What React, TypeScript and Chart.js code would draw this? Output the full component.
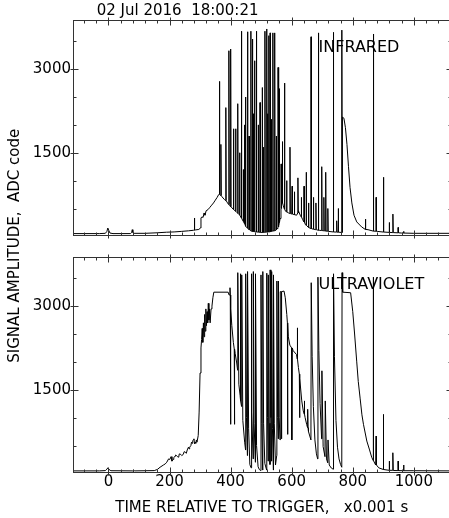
import React, { useEffect, useRef } from 'react';
import { Chart, registerables } from 'chart.js';

Chart.register(...registerables);

const FONT = 'DejaVu Sans';
const TITLE_TEXT = '02 Jul 2016  18:00:21';
const X_TITLE = 'TIME RELATIVE TO TRIGGER,   x0.001 s';
const Y_TITLE = 'SIGNAL AMPLITUDE,  ADC code';
const PANEL_LABELS = ['INFRARED', 'ULTRAVIOLET'];
const LABEL_T = 688;
const LABEL_V = 3390;

const X_MIN = -116;
const X_MAX = 1120;
const Y_MIN = 25;
const Y_MAX = 3890;
const X_TICKS = [0, 200, 400, 600, 800, 1000];
const Y_TICKS = [1500, 3000];
const X_MINOR_STEP = 40;
const Y_MINOR_STEP = 500;

// Infrared: slow envelope [time, value]
const IR_ENVELOPE: [number, number][] = [
  [-116, 50], [-30, 50], [-10, 55], [-5, 90], [-2, 150], [1, 110], [5, 60], [15, 50],
  [72, 50], [76, 70], [78, 120], [80, 70], [84, 55], [120, 55], [160, 65], [190, 75],
  [215, 80], [240, 90], [262, 100], [279, 110], [284, 115], [296, 125], [301, 150],
  [303, 330], [306, 350], [310, 340], [313, 420], [316, 380], [320, 460], [326, 480],
  [332, 520], [338, 560], [344, 600], [350, 650], [356, 700], [361, 750], [366, 740],
  [372, 710], [380, 660], [390, 600], [400, 530], [410, 480], [420, 430], [430, 380],
  [440, 280], [450, 180], [460, 120], [470, 90], [480, 80], [500, 70], [520, 80],
  [540, 100], [552, 140], [558, 200], [562, 320], [567, 620], [572, 560], [580, 450],
  [590, 420], [600, 400], [610, 390], [616, 380], [622, 460], [628, 380], [636, 300],
  [645, 210], [655, 160], [670, 130], [690, 110], [720, 90], [750, 75], [764, 70],
  [766, 2140], [771, 2120], [776, 1950], [781, 1650], [786, 1250], [791, 880],
  [797, 600], [804, 380], [813, 260], [829, 170], [850, 120], [880, 90], [920, 70],
  [960, 60], [1000, 55], [1120, 55],
];

// Infrared: spikes [time, peak, base]
const IR_SPIKES: [number, number, number][] = [
  [281, 330, 112], [363, 2780, 755], [368, 1650, 730], [384, 2310, 640], [394, 3330, 570],
  [400, 3360, 530], [409, 1930, 485], [416, 1930, 450], [423, 2380, 415], [429, 1500, 385],
  [435, 3680, 330], [441, 1200, 270], [445, 2000, 230], [448, 2500, 200], [455, 3670, 150],
  [460, 1800, 120], [466, 3680, 100], [471, 3540, 90], [474, 2200, 88], [478, 3150, 85],
  [484, 3680, 80], [490, 2000, 77], [496, 2400, 73], [503, 2670, 70], [507, 1600, 72],
  [512, 3680, 74], [518, 3720, 76], [522, 2200, 78], [525, 3600, 80], [529, 3650, 85],
  [533, 2100, 90], [538, 3650, 95], [544, 3650, 100], [549, 1800, 120], [555, 3030, 170],
  [559, 2650, 250], [565, 1300, 500], [569, 1700, 600], [576, 2750, 490], [583, 1000, 440],
  [594, 1600, 410], [601, 900, 400], [608, 800, 392], [620, 1050, 420], [631, 700, 350],
  [640, 900, 260], [647, 1150, 200], [655, 600, 160], [663, 3580, 140], [671, 700, 130],
  [679, 600, 120], [687, 3650, 110], [698, 1250, 105], [705, 700, 100], [711, 1150, 95],
  [718, 500, 92], [736, 3660, 80], [747, 280, 77], [752, 500, 76], [764, 3700, 70],
  [841, 310, 125], [867, 3630, 95], [876, 700, 92], [900, 1060, 78], [919, 250, 72],
  [931, 400, 68], [948, 160, 64], [966, 90, 60],
];

// Ultraviolet: envelope with saturated teeth [time, value]
const UV_ENVELOPE: [number, number][] = [
  [-116, 45], [-30, 45], [-10, 50], [-5, 75], [-2, 100], [2, 70], [8, 48], [80, 45],
  [83, 60], [86, 45], [150, 50], [160, 70], [169, 110], [180, 150], [186, 170], [191, 200],
  [197, 260], [201, 250], [205, 300], [208, 220], [212, 250], [214, 280], [218, 310],
  [220, 330], [223, 320], [226, 300], [230, 290], [232, 350], [237, 340], [240, 320],
  [245, 340], [248, 390], [252, 380], [255, 360], [258, 420], [262, 470], [264, 440],
  [266, 470], [270, 500], [272, 560], [274, 540], [276, 590], [278, 600], [280, 620],
  [282, 530], [284, 560], [286, 540], [288, 600], [290, 560], [294, 680], [297, 1100],
  [300, 1800], [303, 2250], [305, 2400], [307, 2600], [309, 2350], [311, 2700], [313, 2450],
  [315, 2850], [317, 2550], [319, 2950], [321, 2650], [323, 2900], [325, 2700], [327, 3050],
  [329, 2750], [331, 2950], [333, 2700], [336, 2950], [339, 3000], [342, 3150], [345, 3250],
  [392, 3250], [395, 3200], [398, 3330], [401, 2950], [404, 2650], [409, 2350], [415, 2150],
  [420, 1980], [423, 1850], [423.5, 3600], [427, 1600], [431, 1400], [431.5, 3580],
  [434, 1300], [436, 1200], [436.5, 3560], [440, 950], [446, 560], [449, 420],
  [449.5, 3580], [452, 1000], [455, 320], [455.5, 3620], [459, 800], [463, 160], [467, 100],
  [467.5, 3580], [470, 1100], [474, 260], [474.5, 3620], [477, 900], [481, 200],
  [481.5, 3580], [485, 500], [490, 120], [494, 70], [499, 50], [499.5, 3560], [502, 900],
  [505, 60], [505.5, 3620], [508, 900], [512, 180], [518, 60], [518.5, 3590], [521, 1000],
  [523, 220], [523.5, 3560], [526, 900], [529, 160], [529.5, 3650], [532, 1000], [534, 220],
  [534.5, 3620], [537, 800], [540, 60], [540.5, 3560], [543, 900], [547, 150], [551, 320],
  [551.5, 3450], [554, 1000], [556, 620], [556.5, 3450], [559, 1000], [562, 600],
  [562.5, 3260], [575, 3270], [579, 3150], [584, 2850], [589, 2450], [594, 2300],
  [605, 2200], [616, 2130], [622, 1900], [627, 1700], [633, 1300], [638, 1120], [644, 1000],
  [649, 880], [655, 750], [663, 600], [664, 3420], [667, 2100], [671, 1200], [676, 600],
  [681, 350], [685, 260], [686, 3520], [689, 2200], [693, 1250], [698, 620], [699, 1840],
  [703, 480], [709, 300], [710, 1300], [714, 260], [718, 190], [719, 600], [723, 150],
  [730, 95], [736, 75], [737, 3580], [740, 2100], [745, 950], [750, 470], [755, 260],
  [760, 160], [764, 110], [765, 3600], [767, 3250], [793, 3240], [800, 2900], [806, 2500],
  [813, 2000], [818, 1650], [824, 1350], [830, 1050], [835, 880], [846, 580], [855, 420],
  [862, 290], [867, 230], [875, 150], [885, 100], [900, 70], [930, 55], [1000, 48],
  [1120, 45],
];

// Ultraviolet: isolated spikes/dips [time, extreme, base]
const UV_SPIKES: [number, number, number][] = [
  [399, 880, 3200], [412, 880, 2230], [566, 620, 3260], [586, 700, 2700], [600, 600, 2250],
  [618, 2610, 2050], [625, 1000, 1780], [641, 1300, 1060], [652, 1150, 820],
  [867, 3520, 230], [876, 670, 150], [900, 1058, 70], [919, 220, 55], [931, 370, 52],
  [948, 220, 50], [966, 150, 48],
];

function buildSeries(env: [number, number][], spikes: [number, number, number][]) {
  const pts: { x: number; y: number }[] = env.map(([x, y]) => ({ x, y }));
  for (const [t, peak, base] of spikes) {
    pts.push({ x: t, y: base }, { x: t + 0.4, y: peak }, { x: t + 1.6, y: base });
  }
  return pts
    .map((p, i) => ({ p, i }))
    .sort((a, b) => a.p.x - b.p.x || a.i - b.i)
    .map((o) => o.p);
}

const framePlugin = {
  id: 'framePlugin',
  afterDraw(chart: any) {
    const ctx = chart.ctx as CanvasRenderingContext2D;
    const { left, right, top } = chart.chartArea;
    const xs = chart.scales.x;
    const crisp = (v: number) => Math.round(v) + 0.5;
    ctx.save();
    ctx.strokeStyle = '#333';
    ctx.lineWidth = 1;
    const ids = ['yTop', 'yBot'];
    ids.forEach((id, k) => {
      const ys = chart.scales[id];
      const t = ys.top;
      const b = ys.bottom;
      ctx.strokeRect(crisp(left), crisp(t), Math.round(right) - Math.round(left), Math.round(b) - Math.round(t));
      ctx.beginPath();
      const firstMinor = Math.ceil(X_MIN / X_MINOR_STEP) * X_MINOR_STEP;
      for (let v = firstMinor; v <= X_MAX; v += X_MINOR_STEP) {
        const px = crisp(xs.getPixelForValue(v));
        const major = X_TICKS.includes(v);
        const inLen = major ? 5 : 3;
        const outLen = major ? 3 : 0;
        ctx.moveTo(px, crisp(b) + outLen);
        ctx.lineTo(px, crisp(b) - inLen);
        ctx.moveTo(px, crisp(t) - outLen);
        ctx.lineTo(px, crisp(t) + inLen);
      }
      for (let v = Y_MINOR_STEP; v < Y_MAX; v += Y_MINOR_STEP) {
        const py = crisp(ys.getPixelForValue(v));
        const major = Y_TICKS.includes(v);
        const inLen = major ? 5 : 3;
        const outLen = major ? 3 : 0;
        ctx.moveTo(crisp(left) - outLen, py);
        ctx.lineTo(crisp(left) + inLen, py);
        ctx.moveTo(crisp(right) + outLen, py);
        ctx.lineTo(crisp(right) - inLen, py);
      }
      ctx.stroke();

      // panel label
      ctx.fillStyle = '#000';
      ctx.font = `16px "${FONT}"`;
      ctx.textAlign = 'left';
      ctx.textBaseline = 'middle';
      ctx.fillText(PANEL_LABELS[k], xs.getPixelForValue(LABEL_T), ys.getPixelForValue(LABEL_V));
    });

    // title
    ctx.fillStyle = '#000';
    ctx.font = `15px "${FONT}"`;
    ctx.textAlign = 'left';
    ctx.textBaseline = 'middle';
    ctx.fillText(TITLE_TEXT, left + 23.7, top - 8.3);

    // shared y-axis title
    const yt = chart.scales.yTop;
    const yb = chart.scales.yBot;
    const cy = (Math.min(yt.top, yb.top) + Math.max(yt.bottom, yb.bottom)) / 2;
    ctx.translate(18.5, cy);
    ctx.rotate(-Math.PI / 2);
    ctx.textAlign = 'center';
    ctx.textBaseline = 'alphabetic';
    ctx.fillText(Y_TITLE, 0, 0);
    ctx.restore();
  },
};

function yScale(weight: number) {
  return {
    type: 'linear',
    position: 'left',
    stack: 'panels',
    stackWeight: weight,
    min: Y_MIN,
    max: Y_MAX,
    afterBuildTicks: (s: any) => {
      s.ticks = Y_TICKS.map((value) => ({ value }));
    },
    afterFit: (s: any) => {
      s.width = 73;
    },
    ticks: {
      color: '#000',
      font: { family: FONT, size: 15 },
      padding: 2,
      callback: (v: any) => String(v),
    },
    grid: { display: false, drawTicks: false },
    border: { display: false },
  };
}

export default function App() {
  const ref = useRef<HTMLCanvasElement | null>(null);
  useEffect(() => {
    if (!ref.current) return;
    const irData = buildSeries(IR_ENVELOPE, IR_SPIKES);
    const uvData = buildSeries(UV_ENVELOPE, UV_SPIKES);
    const chart = new Chart(ref.current, {
      type: 'line',
      data: {
        datasets: [
          {
            label: PANEL_LABELS[0],
            data: irData,
            xAxisID: 'x',
            yAxisID: 'yTop',
            borderColor: '#000',
            borderWidth: 1,
            pointRadius: 0,
            tension: 0,
            fill: false,
          },
          {
            label: PANEL_LABELS[1],
            data: uvData,
            xAxisID: 'x',
            yAxisID: 'yBot',
            borderColor: '#000',
            borderWidth: 1,
            pointRadius: 0,
            tension: 0,
            fill: false,
          },
        ],
      },
      options: {
        responsive: false,
        animation: false,
        devicePixelRatio: 1,
        events: [],
        layout: { padding: { top: 19.5, right: 2.5, bottom: 0, left: 0 } },
        plugins: {
          legend: { display: false },
          tooltip: { enabled: false },
          title: { display: false },
        },
        scales: {
          x: {
            type: 'linear',
            position: 'bottom',
            min: X_MIN,
            max: X_MAX,
            afterBuildTicks: (s: any) => {
              s.ticks = X_TICKS.map((value) => ({ value }));
            },
            afterFit: (s: any) => {
              s.height = 46;
            },
            ticks: {
              color: '#000',
              font: { family: FONT, size: 15 },
              padding: 1,
              maxRotation: 0,
              autoSkip: false,
              callback: (v: any) => String(v),
            },
            grid: { display: false, drawTicks: false },
            border: { display: false },
            title: {
              display: true,
              text: X_TITLE,
              color: '#000',
              font: { family: FONT, size: 15 },
              padding: { top: 0, bottom: 1 },
            },
          },
          yBot: yScale(215.5),
          yGap: {
            type: 'linear',
            position: 'left',
            stack: 'panels',
            stackWeight: 21.5,
            min: 0,
            max: 1,
            afterBuildTicks: (s: any) => {
              s.ticks = [];
            },
            afterFit: (s: any) => {
              s.width = 73;
            },
            ticks: { display: false },
            grid: { display: false, drawTicks: false },
            border: { display: false },
          },
          yTop: yScale(215.5),
        } as any,
      },
      plugins: [framePlugin],
    } as any);
    return () => chart.destroy();
  }, []);

  return (
    <div style={{ position: 'absolute', left: 0, top: 0, width: 449, height: 518, overflow: 'hidden', background: '#fff' }}>
      <canvas ref={ref} width={453} height={518} style={{ display: 'block' }} />
    </div>
  );
}
